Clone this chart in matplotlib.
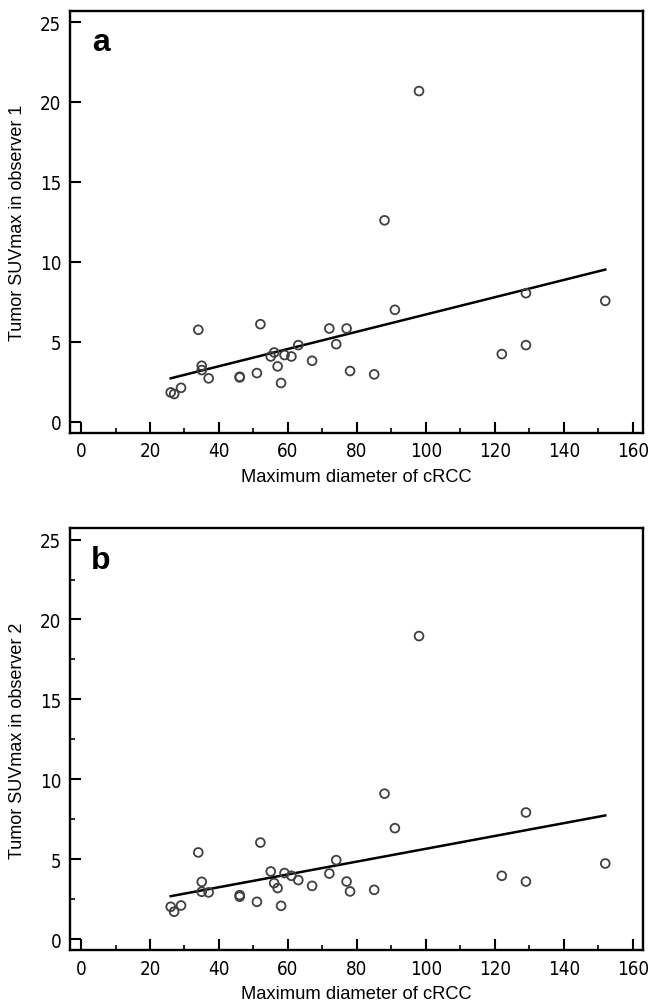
import matplotlib
matplotlib.use("Agg")
import matplotlib.pyplot as plt
import numpy as np
from matplotlib.ticker import MultipleLocator, NullLocator
from matplotlib import font_manager
from matplotlib.font_manager import FontProperties

# ---- data ----
diameter = [26, 27, 29, 34, 35, 35, 37, 46, 46, 51, 52, 55, 56, 57, 58, 59, 61,
            63, 67, 72, 74, 77, 78, 85, 88, 91, 98, 122, 129, 129, 152]
suv_obs1 = [1.82, 1.72, 2.11, 5.74, 3.49, 3.22, 2.70, 2.80, 2.76, 3.03, 6.09, 4.07,
            4.32, 3.45, 2.41, 4.16, 4.07, 4.78, 3.80, 5.82, 4.84, 5.82, 3.16,
            2.95, 12.59, 6.99, 20.68, 4.22, 8.03, 4.78, 7.55]
suv_obs2 = [2.02, 1.71, 2.10, 5.42, 3.58, 2.96, 2.92, 2.75, 2.65, 2.33, 6.04, 4.23,
            3.50, 3.19, 2.08, 4.13, 3.96, 3.69, 3.33, 4.10, 4.94, 3.60, 2.98,
            3.08, 9.10, 6.94, 18.96, 3.96, 7.92, 3.60, 4.73]
# regression lines (intercept, slope)
fit_obs1 = (1.30, 0.054)
fit_obs2 = (1.64, 0.0401)

panel_letters = ["a", "b"]
ylabels = ["Tumor SUVmax in observer 1", "Tumor SUVmax in observer 2"]
xlabel = "Maximum diameter of cRCC"

# pick a condensed sans font for the tick labels if one is installed
tick_fp = FontProperties(family="Liberation Sans", size=13.5)
cond = [f for f in font_manager.fontManager.ttflist
        if ("Narrow" in f.name or "Condensed" in f.name or
            f.stretch in ("condensed", "semi-condensed", "semicondensed"))
        and f.style == "normal" and f.weight in (400, "normal", "regular")]
if cond:
    tick_fp = FontProperties(fname=cond[0].fname, size=13.5)

fig = plt.figure(figsize=(6.57, 10.03), dpi=100)
positions = [[0.106, 0.5676, 0.873, 0.4206], [0.106, 0.0516, 0.873, 0.4206]]

for i, (pos, yv, fit, letter, ylab) in enumerate(zip(positions, [suv_obs1, suv_obs2],
                                       [fit_obs1, fit_obs2], panel_letters, ylabels)):
    ax = fig.add_axes(pos)
    x = np.array(diameter, dtype=float)
    y = np.array(yv, dtype=float)
    ax.scatter(x, y, s=40, facecolors="none", edgecolors="#404040", linewidths=1.3, zorder=3)
    xl = np.array([x.min(), x.max()])
    ax.plot(xl, fit[0] + fit[1] * xl, color="black", lw=1.8, zorder=2)
    ax.set_xlim(-3.3, 163)
    ax.set_ylim(-0.7, 25.7)
    ax.xaxis.set_major_locator(MultipleLocator(20))
    ax.xaxis.set_minor_locator(MultipleLocator(10))
    ax.yaxis.set_major_locator(MultipleLocator(5))
    if i == 1:
        ax.yaxis.set_minor_locator(MultipleLocator(2.5))
    else:
        ax.yaxis.set_minor_locator(NullLocator())
    ax.tick_params(which="major", direction="in", length=8, width=1.5,
                   top=False, right=False, pad=6)
    ax.tick_params(which="minor", direction="in", length=3.8, width=1.2,
                   top=False, right=False)
    for lab in ax.get_xticklabels() + ax.get_yticklabels():
        lab.set_fontproperties(tick_fp)
    for sp in ax.spines.values():
        sp.set_linewidth(1.7)
    ax.set_xlabel(xlabel, fontsize=13.2, family="Liberation Sans", labelpad=5.5)
    ax.set_ylabel(ylab, fontsize=13, family="Liberation Sans", labelpad=10)
    ax.text(0.054, 0.925, letter, transform=ax.transAxes, fontsize=23,
            fontweight="bold", family="Liberation Sans", ha="center", va="center")

fig.savefig("out.png", dpi=100)
